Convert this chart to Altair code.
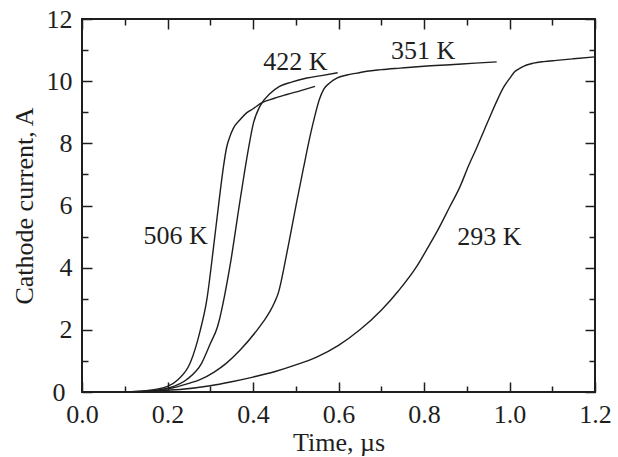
import altair as alt
import pandas as pd

# ---- data ----
t_506 = [0.10, 0.15, 0.20, 0.225, 0.253, 0.276, 0.292, 0.307, 0.321, 0.331, 0.338, 0.346, 0.354,
         0.369, 0.385, 0.401, 0.42, 0.45, 0.479, 0.51, 0.545]
i_506 = [0.0, 0.04, 0.18, 0.4, 0.93, 1.95, 2.97, 4.58, 6.19, 7.26, 7.85, 8.22, 8.48,
         8.75, 8.98, 9.12, 9.3, 9.45, 9.57, 9.69, 9.83]

t_422 = [0.10, 0.15, 0.20, 0.245, 0.28, 0.30, 0.317, 0.346, 0.37, 0.389, 0.401, 0.416, 0.44,
         0.462, 0.49, 0.526, 0.56, 0.598]
i_422 = [0.0, 0.02, 0.12, 0.4, 0.93, 1.55, 2.1, 4.04, 6.19, 7.8, 8.65, 9.19, 9.6,
         9.83, 9.97, 10.1, 10.18, 10.27]

t_351 = [0.10, 0.15, 0.20, 0.25, 0.276, 0.31, 0.338, 0.37, 0.41, 0.425, 0.44, 0.45, 0.46,
         0.465, 0.471, 0.486, 0.502, 0.518, 0.533, 0.545, 0.555, 0.566, 0.58, 0.596, 0.62,
         0.643, 0.666, 0.70, 0.744, 0.80, 0.861, 0.92, 0.97]
i_351 = [0.0, 0.02, 0.1, 0.28, 0.4, 0.65, 0.93, 1.35, 2.0, 2.28, 2.6, 2.87, 3.22,
         3.5, 3.9, 4.95, 6.1, 7.2, 8.2, 8.9, 9.4, 9.75, 9.95, 10.1, 10.2,
         10.26, 10.32, 10.37, 10.42, 10.48, 10.53, 10.58, 10.62]

t_293 = [0.10, 0.15, 0.229, 0.30, 0.35, 0.40, 0.45, 0.50, 0.55, 0.60, 0.65, 0.70, 0.74,
         0.783, 0.805, 0.83, 0.86, 0.884, 0.905, 0.923, 0.94, 0.954, 0.97, 0.986, 1.001,
         1.012, 1.025, 1.04, 1.056, 1.08, 1.11, 1.15, 1.2]
i_293 = [0.0, 0.03, 0.08, 0.2, 0.33, 0.48, 0.65, 0.87, 1.13, 1.5, 2.0, 2.63, 3.25,
         4.04, 4.55, 5.15, 5.95, 6.6, 7.3, 7.85, 8.4, 8.85, 9.35, 9.8, 10.1,
         10.3, 10.42, 10.52, 10.58, 10.63, 10.67, 10.72, 10.78]

series_names = ["506 K", "422 K", "351 K", "293 K"]
label_t = [0.219, 0.499, 0.798, 0.953]
label_i = [5.03, 10.61, 10.96, 5.0]

x_major = [0.0, 0.2, 0.4, 0.6, 0.8, 1.0, 1.2]
x_minor = [0.1, 0.3, 0.5, 0.7, 0.9, 1.1]
y_major = [0, 2, 4, 6, 8, 10, 12]
y_minor = [1, 3, 5, 7, 9, 11]
y_labels_main = [2, 4, 6, 8, 10, 12]
y_labels_zero = [0]

# ---- tables ----
rows = []
for name, ts, vs in zip(series_names, [t_506, t_422, t_351, t_293], [i_506, i_422, i_351, i_293]):
    for t, v in zip(ts, vs):
        rows.append({"series": name, "t": t, "i": v})
df = pd.DataFrame(rows)
lab_df = pd.DataFrame({"label": series_names, "t": label_t, "i": label_i})

W, H = 513, 373
FONT = "Liberation Serif"
INK = "#1e1e1e"
xs = alt.Scale(domain=[0, 1.2], nice=False, zero=False)
ys = alt.Scale(domain=[0, 12], nice=False, zero=False)

base = alt.Chart(df)

lines = base.mark_line(color=INK, strokeWidth=1.4, interpolate="monotone").encode(
    x=alt.X("t:Q", scale=xs, axis=alt.Axis(
        orient="bottom", values=x_major, format=".1f", ticks=False, domain=False, grid=False,
        labelFont=FONT, labelFontSize=26, labelPadding=9, labelColor=INK, labelFlush=False,
        labelOverlap=False,
        title="Time, µs", titleFont=FONT, titleFontSize=26, titleFontWeight="normal",
        titleColor=INK, titleX=W / 2, titleY=58.5, titleBaseline="alphabetic", titleAlign="center")),
    y=alt.Y("i:Q", scale=ys, axis=alt.Axis(
        orient="left", values=y_labels_main, format="d", ticks=False, domain=False, grid=False,
        labelFont=FONT, labelFontSize=26, labelPadding=10, labelColor=INK, labelFlush=False,
        labelOverlap=False,
        title="Cathode current, A", titleFont=FONT, titleFontSize=26, titleFontWeight="normal",
        titleColor=INK, titleAngle=270, titleX=-49.5, titleY=H / 2,
        titleBaseline="alphabetic", titleAlign="center")),
    detail="series:N",
)

# the "0" of the y axis, set a little further left so it clears the "0.0" below it
zero_label = base.mark_line(opacity=0).encode(
    x=alt.X("t:Q", scale=xs, axis=None),
    y=alt.Y("i:Q", scale=ys, axis=alt.Axis(
        orient="left", values=y_labels_zero, format="d", ticks=False, domain=False, grid=False,
        labelFont=FONT, labelFontSize=26, labelPadding=17, labelColor=INK, labelFlush=False,
        labelOverlap=False, title="")),
    detail="series:N",
)


def tick_layer(xorient, xoffset, xvals, xsize, yorient, yoffset, yvals, ysize):
    return base.mark_line(opacity=0).encode(
        x=alt.X("t:Q", scale=xs, axis=alt.Axis(
            orient=xorient, offset=xoffset, values=xvals, tickSize=xsize, tickWidth=1.5,
            tickColor=INK, labels=False, domain=False, grid=False, title="")),
        y=alt.Y("i:Q", scale=ys, axis=alt.Axis(
            orient=yorient, offset=yoffset, values=yvals, tickSize=ysize, tickWidth=1.5,
            tickColor=INK, labels=False, domain=False, grid=False, title="")),
        detail="series:N",
    )


# inward ticks: an axis of the opposite orient, shifted across the plot
t1 = tick_layer("top", -H, x_major, 10, "right", -W, y_major, 10)      # bottom & left, major
t2 = tick_layer("top", -H, x_minor, 6, "right", -W, y_minor, 6)        # bottom & left, minor
t3 = tick_layer("bottom", -H, x_major, 10, "left", -W, y_major, 10)    # top & right, major
t4 = tick_layer("bottom", -H, x_minor, 6, "left", -W, y_minor, 6)      # top & right, minor

text = alt.Chart(lab_df).mark_text(
    font=FONT, fontSize=26, color=INK, align="center", baseline="middle"
).encode(
    x=alt.X("t:Q", scale=xs, axis=None),
    y=alt.Y("i:Q", scale=ys, axis=None),
    text="label:N",
)

chart = alt.layer(lines, zero_label, t1, t2, t3, t4, text).resolve_axis(
    x="independent", y="independent"
).properties(
    width=W, height=H, autosize="none",
    padding={"left": 82, "top": 19, "right": 23, "bottom": 65},
    background="white",
).configure_view(stroke=INK, strokeWidth=2)

chart.save("out.html", embed_options={"renderer": "svg", "actions": False})
